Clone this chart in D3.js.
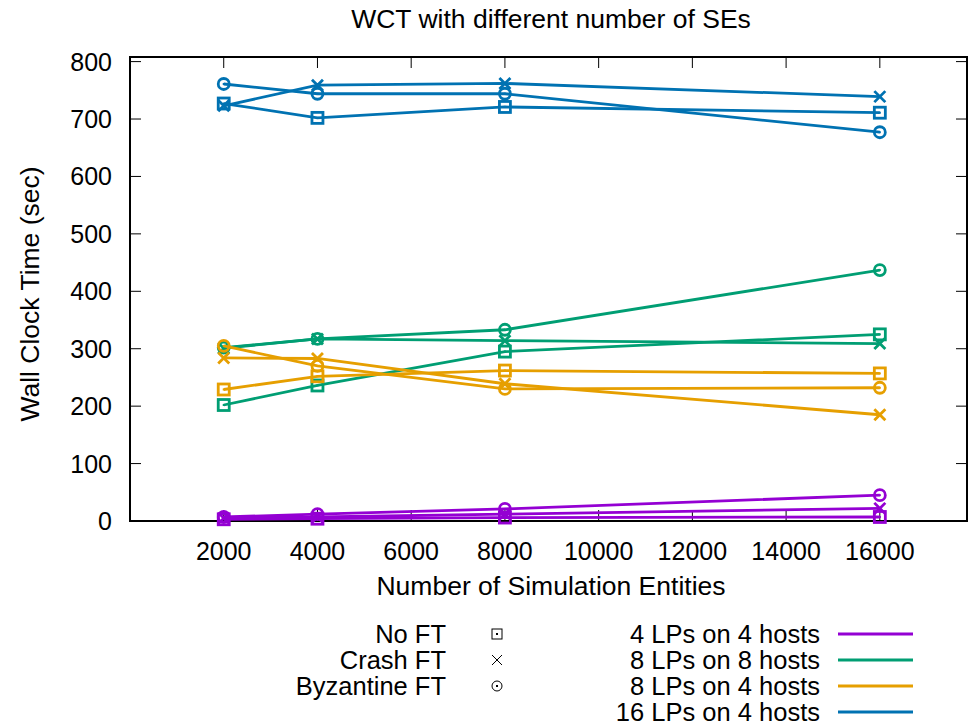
<!DOCTYPE html>
<html>
<head>
<meta charset="utf-8">
<script src="https://cdn.jsdelivr.net/npm/d3@7"></script>
<style>
  body { margin: 0; background: #fff; }
  svg text { font-family: "Liberation Sans", Arial, Helvetica, sans-serif; fill: #000; }
</style>
</head>
<body>
<svg id="chart" width="970" height="726"></svg>
<script>
const xValues = [2000, 4000, 8000, 16000];
const xTicks = [2000, 4000, 6000, 8000, 10000, 12000, 14000, 16000];
const yTicks = [0, 100, 200, 300, 400, 500, 600, 700, 800];

const configs = ["4 LPs on 4 hosts", "8 LPs on 8 hosts", "8 LPs on 4 hosts", "16 LPs on 4 hosts"];
const configColors = ["#9400d3", "#009e73", "#e69f00", "#0072b2"];
const ftTypes = ["No FT", "Crash FT", "Byzantine FT"];
const ftSymbols = ["square", "cross", "circle"];

// values [config][ftType]
const lp4h4_noft = [3, 4, 6, 7];
const lp4h4_crash = [5, 7, 12, 22];
const lp4h4_byz = [7, 12, 21, 45];

const lp8h8_noft = [202, 236, 295, 325];
const lp8h8_crash = [301, 317, 314, 309];
const lp8h8_byz = [302, 317, 333, 437];

const lp8h4_noft = [229, 252, 262, 257];
const lp8h4_crash = [284, 283, 239, 185];
const lp8h4_byz = [305, 270, 230, 232];

const lp16h4_noft = [727, 702, 721, 711];
const lp16h4_crash = [723, 759, 762, 739];
const lp16h4_byz = [761, 744, 744, 677];

const seriesValues = [
  [lp4h4_noft, lp4h4_crash, lp4h4_byz],
  [lp8h8_noft, lp8h8_crash, lp8h8_byz],
  [lp8h4_noft, lp8h4_crash, lp8h4_byz],
  [lp16h4_noft, lp16h4_crash, lp16h4_byz]
];

const svg = d3.select("#chart");
const L = 130, R = 967, T = 57, B = 521;
const FS = 25;     // tick labels
const FT = 26.5;   // titles
const FL = 25.5;   // legend

const x = d3.scaleLinear().domain([0, 17860]).range([L, R]);
const y = d3.scaleLinear().domain([0, 808]).range([B, T]);

// ticks (mirrored, inward)
const tickLen = 11;
const axisG = svg.append("g");
yTicks.forEach(v => {
  axisG.append("line").attr("x1", L).attr("x2", L + tickLen).attr("y1", y(v)).attr("y2", y(v)).attr("stroke", "#000").attr("stroke-width", 1);
  axisG.append("line").attr("x1", R).attr("x2", R - tickLen).attr("y1", y(v)).attr("y2", y(v)).attr("stroke", "#000").attr("stroke-width", 1);
  axisG.append("text").attr("x", L - 18).attr("y", y(v)).attr("text-anchor", "end").attr("dominant-baseline", "central").style("font-size", FS + "px").text(v);
});
xTicks.forEach(v => {
  axisG.append("line").attr("x1", x(v)).attr("x2", x(v)).attr("y1", B).attr("y2", B - tickLen).attr("stroke", "#000").attr("stroke-width", 1);
  axisG.append("line").attr("x1", x(v)).attr("x2", x(v)).attr("y1", T).attr("y2", T + tickLen).attr("stroke", "#000").attr("stroke-width", 1);
  axisG.append("text").attr("x", x(v)).attr("y", 551).attr("text-anchor", "middle").attr("dominant-baseline", "central").style("font-size", FS + "px").text(v);
});

// border
svg.append("rect").attr("x", L).attr("y", T).attr("width", R - L).attr("height", B - T)
  .attr("fill", "none").attr("stroke", "#000").attr("stroke-width", 2);

// titles
svg.append("text").attr("x", 551).attr("y", 19).attr("text-anchor", "middle").attr("dominant-baseline", "central").style("font-size", FT + "px").text("WCT with different number of SEs");
svg.append("text").attr("x", 551).attr("y", 586).attr("text-anchor", "middle").attr("dominant-baseline", "central").style("font-size", FT + "px").text("Number of Simulation Entities");
svg.append("text").attr("transform", "translate(30,294) rotate(-90)").attr("text-anchor", "middle").attr("dominant-baseline", "central").style("font-size", FT + "px").text("Wall Clock Time (sec)");

function drawSymbol(g, type, cx, cy, s, color, sw, dot) {
  if (type === "square") {
    g.append("rect").attr("x", cx - s).attr("y", cy - s).attr("width", 2 * s).attr("height", 2 * s)
      .attr("fill", "none").attr("stroke", color).attr("stroke-width", sw);
  } else if (type === "cross") {
    g.append("path").attr("d", `M${cx - s},${cy - s}L${cx + s},${cy + s}M${cx - s},${cy + s}L${cx + s},${cy - s}`)
      .attr("stroke", color).attr("stroke-width", sw).attr("fill", "none");
  } else {
    g.append("circle").attr("cx", cx).attr("cy", cy).attr("r", s)
      .attr("fill", "none").attr("stroke", color).attr("stroke-width", sw);
  }
  if (dot && type !== "cross") {
    g.append("rect").attr("x", cx - 1).attr("y", cy - 1).attr("width", 2).attr("height", 2).attr("fill", color);
  }
}

const line = d3.line().x(d => x(d[0])).y(d => y(d[1]));
const plotG = svg.append("g");
seriesValues.forEach((group, ci) => {
  group.forEach((vals, fi) => {
    const pts = xValues.map((xv, i) => [xv, vals[i]]);
    plotG.append("path").attr("d", line(pts)).attr("fill", "none")
      .attr("stroke", configColors[ci]).attr("stroke-width", 2.8);
    pts.forEach(p => drawSymbol(plotG, ftSymbols[fi], x(p[0]), y(p[1]), 5.5, configColors[ci], 2.8, true));
  });
});

// legend
const rowY = [634, 660, 686, 712];
const legG = svg.append("g");
ftTypes.forEach((t, i) => {
  legG.append("text").attr("x", 446).attr("y", rowY[i]).attr("text-anchor", "end").attr("dominant-baseline", "central").style("font-size", FL + "px").text(t);
  drawSymbol(legG, ftSymbols[i], 497, rowY[i], 5, "#000", 1, true);
});
configs.forEach((c, i) => {
  legG.append("text").attr("x", 820).attr("y", rowY[i]).attr("text-anchor", "end").attr("dominant-baseline", "central").style("font-size", FL + "px").text(c);
  legG.append("line").attr("x1", 838).attr("x2", 913).attr("y1", rowY[i]).attr("y2", rowY[i])
    .attr("stroke", configColors[i]).attr("stroke-width", 2.8);
});
</script>
</body>
</html>
